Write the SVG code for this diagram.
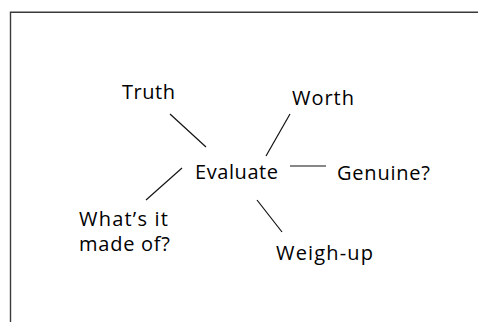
<svg xmlns="http://www.w3.org/2000/svg" width="478" height="322" viewBox="0 0 478 322">
  <style>
    .frame { fill: none; stroke: #3a3a3a; stroke-width: 1.4; }
    .link { stroke: #111; stroke-width: 1.2; fill: none; }
    .label { font-family: "Open Sans", "Noto Sans", sans-serif; font-size: 20px; fill: #000; }
  </style>
  <rect width="478" height="322" fill="#fff"/>
  <!-- open frame: top and left edges only -->
  <path class="frame" d="M10.5,322 V12.2 H478"/>

  <g id="connectors">
    <line class="link" x1="170" y1="114" x2="206" y2="147"/>
    <line class="link" x1="290" y1="114" x2="266" y2="156"/>
    <line class="link" x1="290" y1="166" x2="326" y2="166"/>
    <line class="link" x1="182" y1="168" x2="146" y2="200"/>
    <line class="link" x1="257" y1="200" x2="282" y2="232"/>
  </g>

  <g id="evaluate"><text class="label" x="195" y="179" textLength="83">Evaluate</text></g>
  <g id="truth"><text class="label" x="122" y="99" textLength="53">Truth</text></g>
  <g id="worth"><text class="label" x="292" y="105" textLength="62">Worth</text></g>
  <g id="genuine"><text class="label" x="337" y="180" textLength="93">Genuine?</text></g>
  <g id="made-of">
    <text class="label" x="79" y="226" textLength="89">What’s it</text>
    <text class="label" x="79" y="251" textLength="91">made of?</text>
  </g>
  <g id="weigh-up"><text class="label" x="276" y="260" textLength="97">Weigh-up</text></g>
</svg>
